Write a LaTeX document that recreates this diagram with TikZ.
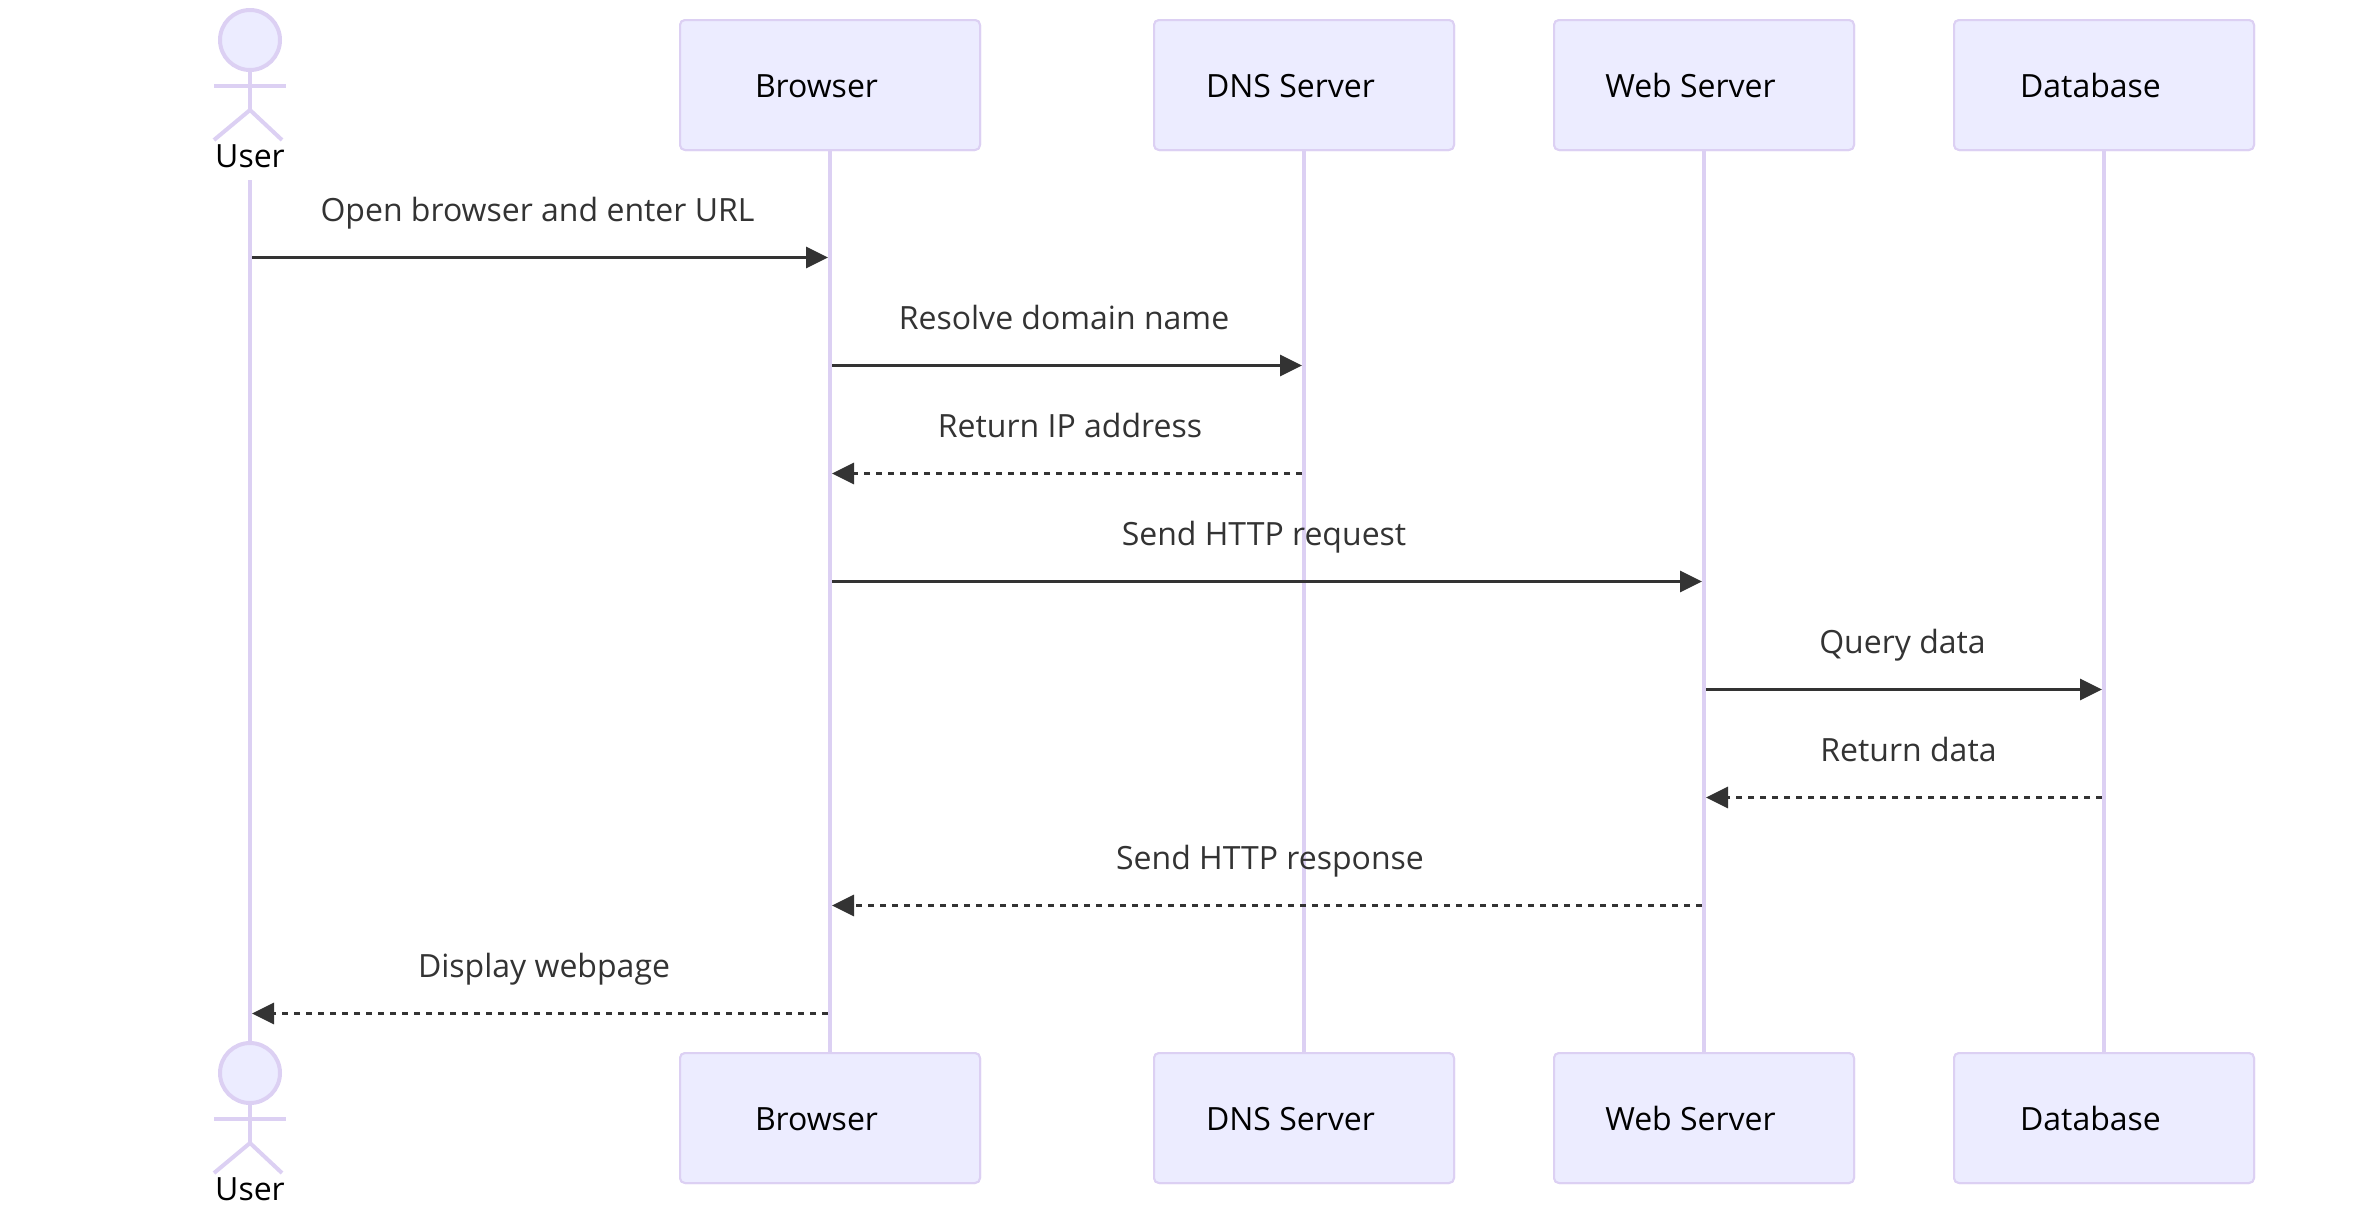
\documentclass[tikz,border=0pt]{standalone}
\usepackage{fontspec}
\setmainfont{Open Sans}
\usetikzlibrary{arrows.meta}
\definecolor{actorfill}{HTML}{ECECFF}
\definecolor{actorline}{HTML}{DCD0F3}
\definecolor{msgcol}{HTML}{333333}
\tikzset{
	actorbox/.style={draw=actorline,fill=actorfill,line width=1pt,rounded corners=2.5pt,
		minimum width=150pt,minimum height=65pt,inner sep=0pt,font=\fontsize{16}{18}\selectfont,
		text height=12pt,text depth=0pt,execute at end node={\hspace*{13.5pt}}},
	actorhead/.style={circle,draw=actorline,fill=actorfill,line width=2pt,minimum size=30pt,inner sep=0pt},
	actorname/.style={anchor=base,inner sep=0pt,font=\fontsize{16}{18}\selectfont},
	stick/.style={draw=actorline,line width=2pt},
	lifeline/.style={draw=actorline,line width=2pt},
	msglabel/.style={anchor=base,inner sep=0pt,text=msgcol,font=\fontsize{16}{18}\selectfont},
	msg/.style={draw=msgcol,line width=1.5pt,-{Triangle[length=11pt,width=10.5pt]},shorten >=1pt,shorten <=1pt},
	reply/.style={msg,dash pattern=on 3pt off 3pt}
}
\begin{document}
\begin{tikzpicture}[x=0.5pt,y=-0.5pt]
	\useasboundingbox (0,0) rectangle (2354,1206);
	% participants, top and bottom row
	\foreach \id/\txt/\cx in {browser/Browser/830,dns/DNS Server/1304,web/Web Server/1704,db/Database/2104}{
		\node[actorbox] (\id top) at (\cx,85) {\txt};
		\node[actorbox] (\id bot) at (\cx,1118) {\txt};
		\draw[lifeline] (\id top) -- (\id bot);
	}
	% redraw the boxes over their lifelines
	\foreach \id/\txt/\cx in {browser/Browser/830,dns/DNS Server/1304,web/Web Server/1704,db/Database/2104}{
		\node[actorbox] at (\cx,85) {\txt};
		\node[actorbox] at (\cx,1118) {\txt};
	}
	% stick figures
	\foreach \pos/\dy in {top/0,bot/1033}{
		\node[actorhead] (user\pos) at (250,40+\dy) {};
		\node[actorname] (username\pos) at (250,167+\dy) {User};
		\draw[stick] (user\pos.south) -- (250,110+\dy);
		\draw[stick] (214,86+\dy) -- (286,86+\dy);
		\draw[stick] (214,140+\dy) -- (250,110+\dy) -- (282,140+\dy);
	}
	\coordinate (userstart) at (250,180);
	\draw[lifeline] (userstart) -- (userbot.north);
	% messages
	\foreach \n/\y in {1/257.5,2/365.5,3/473.5,4/581.5,5/689.5,6/797.5,7/905.5,8/1013.5}{
		\coordinate (m\n) at (0,\y);
	}
	\draw[msg] (m1 -| usertop) -- (m1 -| browsertop);
	\draw[msg] (m2 -| browsertop) -- (m2 -| dnstop);
	\draw[reply] (m3 -| dnstop) -- (m3 -| browsertop);
	\draw[msg] (m4 -| browsertop) -- (m4 -| webtop);
	\draw[msg] (m5 -| webtop) -- (m5 -| dbtop);
	\draw[reply] (m6 -| dbtop) -- (m6 -| webtop);
	\draw[reply] (m7 -| webtop) -- (m7 -| browsertop);
	\draw[reply] (m8 -| browsertop) -- (m8 -| usertop);
	% labels
	\node[msglabel] (l1) at (537.5,221) {Open browser and enter URL};
	\node[msglabel] (l2) at (1064,329) {Resolve domain name};
	\node[msglabel] (l3) at (1070,437) {Return IP address};
	\node[msglabel] (l4) at (1264,545) {Send HTTP request};
	\node[msglabel] (l5) at (1902.5,653) {Query data};
	\node[msglabel] (l6) at (1908.5,761) {Return data};
	\node[msglabel] (l7) at (1270,869) {Send HTTP response};
	\node[msglabel] (l8) at (544,977) {Display webpage};
\end{tikzpicture}
\end{document}
